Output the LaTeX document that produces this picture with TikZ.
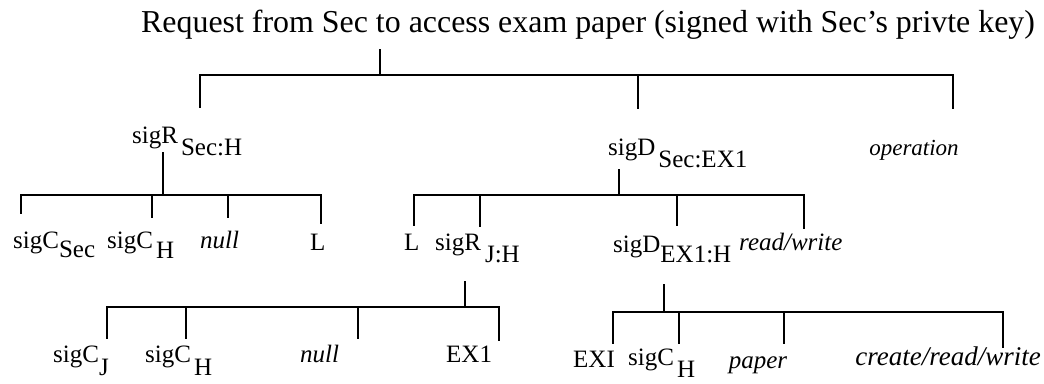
\documentclass[tikz,border=0pt]{standalone}
\usepackage{fontspec}
\setmainfont{Liberation Serif}
\newcommand\subl[2][12pt]{\raisebox{-#1}{#2}}
\begin{document}
\begin{tikzpicture}[x=1pt,y=-1pt,
  lbl/.style={inner sep=0pt, anchor=base west, font=\fontsize{25}{25}\selectfont},
  ilbl/.style={lbl, font=\fontsize{25}{25}\selectfont\itshape},
  tree/.style={line width=1.9pt, line cap=rect}]
\useasboundingbox (0,0) rectangle (1044,383);
% title
\node[lbl, font=\fontsize{31.9}{31.9}\selectfont] (title) at (141,32) {Request from Sec to access exam paper (signed with Sec's privte key)};
% level 1
\node[lbl] (sRSH) at (132,143) {sigR\hspace{3pt}\subl{Sec:H}};
\node[lbl] (sDSE) at (608,155) {sigD\hspace{3pt}\subl{Sec:EX1}};
\node[ilbl, anchor=base, font=\fontsize{23}{23}\selectfont\itshape] (oper) at (914,155) {operation};
% level 2 left
\node[lbl] (cSec) at (13,248) {sigC\subl[9pt]{Sec}};
\node[lbl] (cH1) at (107,248) {sigC\hspace{3pt}\subl[10pt]{H}};
\node[ilbl] (null1) at (200,248) {null};
\node[lbl] (L1) at (310,250) {L};
% level 2 right
\node[lbl] (L2) at (404,250) {L};
\node[lbl] (sRJH) at (435,250) {sigR\hspace{4pt}\subl{J:H}};
\node[lbl] (sDEH) at (613,252) {sigD\subl[10pt]{EX1:H}};
\node[ilbl] (rw) at (739,250) {read/write};
% level 3 left
\node[lbl] (cJ) at (53,362) {sigC\subl[13pt]{J}};
\node[lbl] (cH2) at (145,362) {sigC\hspace{3pt}\subl[13pt]{H}};
\node[ilbl] (null2) at (300,362) {null};
\node[lbl] (EX1) at (446,362) {EX1};
% level 3 right
\node[lbl] (EXI) at (573,367) {EXI};
\node[lbl] (cH3) at (628,365) {sigC\hspace{3pt}\subl[12pt]{H}};
\node[ilbl, anchor=base] (paper) at (758,368) {paper};
\node[ilbl, anchor=base east, font=\fontsize{27}{27}\selectfont\itshape] (crw) at (1041,365) {create/read/write};
% connector coordinates
\coordinate (t0) at (380,50);  \coordinate (t1) at (380,75);
\coordinate (b1l) at (200,75); \coordinate (b1r) at (953,75);
\coordinate (d1a) at (200,107); \coordinate (d1b) at (638,75); \coordinate (d1be) at (638,108); \coordinate (d1c) at (953,108);
% sigR Sec:H
\coordinate (r0) at (163,153); \coordinate (r1) at (163,195);
\coordinate (b2l) at (21,195); \coordinate (b2r) at (321,195);
\coordinate (d2a) at (21,213); \coordinate (d2b0) at (152,195); \coordinate (d2b) at (152,217);
\coordinate (d2c0) at (228,195); \coordinate (d2c) at (228,217); \coordinate (d2d) at (321,223);
% sigD Sec:EX1
\coordinate (s0) at (619,170); \coordinate (s1) at (619,195);
\coordinate (b3l) at (414,195); \coordinate (b3r) at (804,195);
\coordinate (d3a) at (414,225); \coordinate (d3b0) at (480,195); \coordinate (d3b) at (480,226);
\coordinate (d3c0) at (677,195); \coordinate (d3c) at (677,225); \coordinate (d3d) at (804,228);
% sigR J:H
\coordinate (j0) at (465,282); \coordinate (j1) at (465,307);
\coordinate (b4l) at (107,307); \coordinate (b4r) at (499,307);
\coordinate (d4a) at (107,338); \coordinate (d4b0) at (186,307); \coordinate (d4b) at (186,338);
\coordinate (d4c0) at (358,307); \coordinate (d4c) at (358,338); \coordinate (d4d) at (499,340);
% sigD EX1:H
\coordinate (e0) at (664,285); \coordinate (e1) at (664,312);
\coordinate (b5l) at (613,312); \coordinate (b5r) at (1003,312);
\coordinate (d5a) at (613,343); \coordinate (d5b0) at (679,312); \coordinate (d5b) at (679,343);
\coordinate (d5c0) at (784,312); \coordinate (d5c) at (784,343); \coordinate (d5d) at (1003,347);
% draw
\draw[tree] (t0) -- (t1);
\draw[tree] (d1a) -- (b1l) -- (b1r) -- (d1c);
\draw[tree] (d1b) -- (d1be);
\draw[tree] (r0) -- (r1);
\draw[tree] (d2a) -- (b2l) -- (b2r) -- (d2d);
\draw[tree] (d2b0) -- (d2b); \draw[tree] (d2c0) -- (d2c);
\draw[tree] (s0) -- (s1);
\draw[tree] (d3a) -- (b3l) -- (b3r) -- (d3d);
\draw[tree] (d3b0) -- (d3b); \draw[tree] (d3c0) -- (d3c);
\draw[tree] (j0) -- (j1);
\draw[tree] (d4a) -- (b4l) -- (b4r) -- (d4d);
\draw[tree] (d4b0) -- (d4b); \draw[tree] (d4c0) -- (d4c);
\draw[tree] (e0) -- (e1);
\draw[tree] (d5a) -- (b5l) -- (b5r) -- (d5d);
\draw[tree] (d5b0) -- (d5b); \draw[tree] (d5c0) -- (d5c);
\end{tikzpicture}
\end{document}
